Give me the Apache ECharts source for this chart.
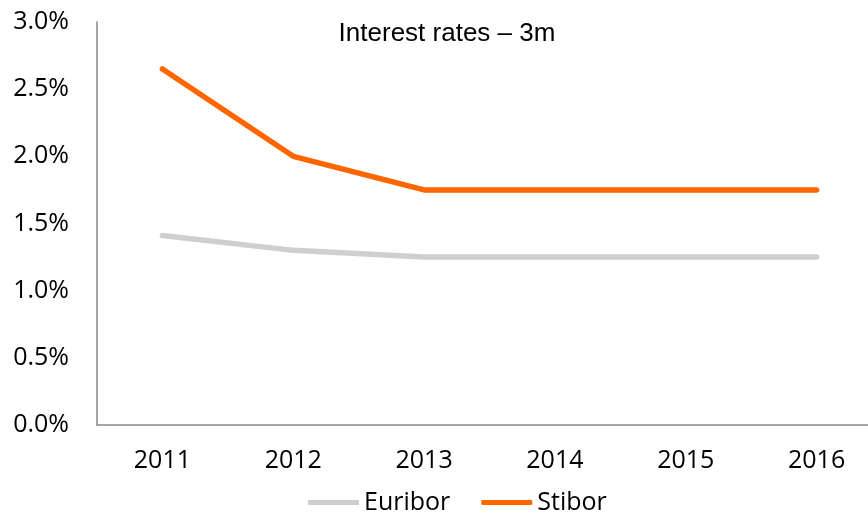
<!DOCTYPE html>
<html>
<head>
<meta charset="utf-8">
<script src="https://cdn.jsdelivr.net/npm/echarts@6/dist/echarts.min.js"></script>
<style>
  html, body { margin: 0; padding: 0; background: #fff; overflow: hidden; }
  /* canvas is a little wider than the window so the last category band runs off the right edge */
  #chart { width: 882px; height: 513px; }
</style>
</head>
<body>
<div id="chart"></div>
<script>
// Annual 3-month interbank rates, in percent
const years = ['2011', '2012', '2013', '2014', '2015', '2016'];
const euribor = [1.41, 1.30, 1.25, 1.25, 1.25, 1.25];
const stibor = [2.65, 2.00, 1.75, 1.75, 1.75, 1.75];
const yTicks = { min: 0, max: 3.0, interval: 0.5 };

const tickFont = '"Open Sans", "Noto Sans", sans-serif';

const chart = echarts.init(document.getElementById('chart'), null, { renderer: 'canvas' });
chart.setOption({
  animation: false,
  backgroundColor: '#ffffff',
  title: {
    text: 'Interest rates \u2013 3m',
    left: 442,
    textAlign: 'center',
    top: 16,
    textStyle: {
      fontFamily: '"Liberation Sans", Arial, sans-serif',
      fontSize: 26,
      fontWeight: 'normal',
      color: '#000000'
    }
  },
  legend: {
    left: 303,
    top: 485,
    itemWidth: 51,
    itemHeight: 5,
    itemGap: 31,
    icon: 'roundRect',
    textStyle: { fontFamily: tickFont, fontSize: 25, color: '#000000' },
    data: ['Euribor', 'Stibor']
  },
  grid: { left: 97, right: 0, top: 22, bottom: 88, containLabel: false },
  xAxis: {
    type: 'category',
    data: years,
    boundaryGap: true,
    axisLine: { lineStyle: { color: '#898989', width: 1.5 } },
    axisTick: { show: false },
    axisLabel: { fontFamily: tickFont, fontSize: 25, color: '#000000', margin: 23 }
  },
  yAxis: {
    type: 'value',
    min: yTicks.min,
    max: yTicks.max,
    interval: yTicks.interval,
    axisLine: { show: true, lineStyle: { color: '#898989', width: 1.5 } },
    axisTick: { show: false },
    splitLine: { show: false },
    axisLabel: {
      fontFamily: tickFont,
      fontSize: 25,
      color: '#000000',
      margin: 28,
      formatter: v => v.toFixed(1) + '%'
    }
  },
  series: [
    {
      name: 'Euribor',
      type: 'line',
      data: euribor,
      symbol: 'none',
      color: '#D0CECE',
      lineStyle: { width: 5.5, color: '#D0CECE', cap: 'round', join: 'round' }
    },
    {
      name: 'Stibor',
      type: 'line',
      data: stibor,
      symbol: 'none',
      color: '#FF6600',
      lineStyle: { width: 5.5, color: '#FF6600', cap: 'round', join: 'round' }
    }
  ]
});
</script>
</body>
</html>
